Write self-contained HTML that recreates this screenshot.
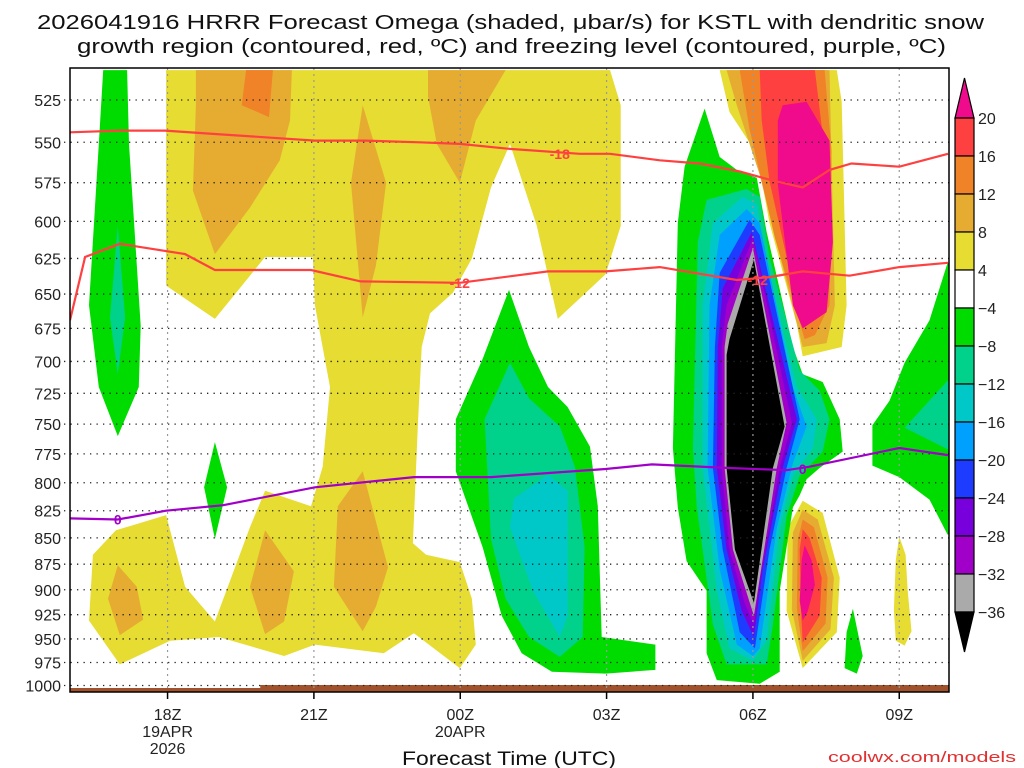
<!DOCTYPE html>
<html><head><meta charset="utf-8">
<style>
html,body{margin:0;padding:0;background:#fff;}
svg{display:block;font-family:"Liberation Sans","DejaVu Sans",sans-serif;}
</style></head>
<body>
<svg id="chart" width="1024" height="768" viewBox="0 0 1024 768" xmlns="http://www.w3.org/2000/svg">
<rect x="0" y="0" width="1024" height="768" fill="#fff"/>
<text x="37" y="29" font-size="20" fill="#111" textLength="947" lengthAdjust="spacingAndGlyphs">2026041916 HRRR Forecast Omega (shaded, μbar/s) for KSTL with dendritic snow</text>
<text x="77" y="53" font-size="20" fill="#111" textLength="869" lengthAdjust="spacingAndGlyphs">growth region (contoured, red, ºC) and freezing level (contoured, purple, ºC)</text>
<defs><clipPath id="plotclip"><rect x="70" y="68" width="879" height="624"/></clipPath></defs>
<g id="shading" clip-path="url(#plotclip)"></g>
<g id="ground"></g>
<g id="grid"></g>
<g id="contours" clip-path="url(#plotclip)"></g>
<rect x="70" y="68" width="879" height="624" fill="none" stroke="#000" stroke-width="1.5"/>
<g id="axes"></g>
<g id="colorbar"></g>
<text x="509" y="765" font-size="19" fill="#111" text-anchor="middle" textLength="214" lengthAdjust="spacingAndGlyphs">Forecast Time (UTC)</text>
<text x="828" y="762" font-size="15" fill="#e03030" textLength="188" lengthAdjust="spacingAndGlyphs">coolwx.com/models</text>
</svg>
<script>
// ---- data ----
const pressureTicks = [525,550,575,600,625,650,675,700,725,750,775,800,825,850,875,900,925,950,975,1000];
const timeTickHours = [2,5,8,11,14,17];
const timeTickLabels = ["18Z","21Z","00Z","03Z","06Z","09Z"];
const timeTickSub1 = ["19APR","","20APR","","",""];
const timeTickSub2 = ["2026","","","","",""];
const cbLabels = ["20","16","12","8","4","-4","-8","-12","-16","-20","-24","-28","-32","-36"];
const cbColors = ["#ff4040","#f08228","#e6ac32","#e6dc32","#ffffff","#00dc00","#00d28c","#00c8c8","#00a0ff","#1e3cff","#7800dc","#a000c8","#aaaaaa"];
const levelColors = {m:"#f00a8c", r:"#ff4040", o:"#f08228", g:"#e6ac32", y:"#e6dc32", gr:"#00dc00", te:"#00d28c", cy:"#00c8c8", lb:"#00a0ff", bl:"#1e3cff", pu:"#7800dc", vi:"#a000c8", ga:"#aaaaaa", bk:"#000000"};
const regionLevels = ["y","g","o","g","g","g","g","g","gr","te","gr","gr","te","cy",
 "y","g","o","r","m","y","g","o","r","m","gr","gr","te","y",
 "gr","te","cy","lb","bl","pu","vi","ga","bk"];
const regionPoints = [
 [[1.97,508],[11.07,508],[11.29,528],[11.29,603],[10.98,636],[10.0,668],[9.57,603],[9.02,551],[8.63,578],[8.24,625],[7.85,649],[7.38,664],[7.21,689],[7.13,752],[7.03,855],[7.30,866],[7.99,873],[8.24,909],[8.32,956],[7.99,981],[7.05,944],[6.43,965],[5.02,956],[4.39,968],[3.05,948],[2.05,952],[1.02,977],[0.39,931],[0.47,866],[0.94,843],[1.97,829],[2.36,897],[2.97,932],[3.69,840],[4.0,807],[4.94,821],[5.18,786],[5.33,720],[5.02,658],[4.98,624],[4.0,624],[2.97,668],[1.97,644]],
 [[2.58,508],[4.55,508],[4.51,537],[4.30,561],[3.69,591],[2.97,622],[2.52,580],[2.58,528]],
 [[3.61,508],[4.16,508],[4.08,535],[3.52,528]],
 [[7.34,508],[8.93,508],[8.32,537],[7.99,575],[7.52,551],[7.34,523]],
 [[6.0,528],[6.48,575],[6.27,630],[6.0,667],[5.76,575]],
 [[6.0,790],[6.52,878],[6.27,917],[6.0,942],[5.41,897],[5.49,821]],
 [[4.0,843],[4.59,882],[4.39,932],[4.0,945],[3.69,897]],
 [[0.98,876],[1.37,897],[1.50,930],[1.02,946],[0.78,909]],
 [[0.68,508],[1.17,508],[1.21,551],[1.45,673],[1.41,720],[0.98,760],[0.59,720],[0.39,658],[0.59,551]],
 [[0.98,603],[1.13,667],[0.98,710],[0.82,667]],
 [[2.97,765],[3.22,804],[2.97,851],[2.75,804]],
 [[9.0,647],[9.41,689],[9.80,720],[10.2,736],[10.66,769],[10.82,821],[10.9,948],[12.0,956],[12.0,983],[10.98,987],[9.88,985],[9.26,965],[8.85,926],[8.46,859],[7.91,790],[7.91,746],[8.46,698]],
 [[9.02,701],[9.41,729],[10.04,752],[10.35,786],[10.55,859],[10.51,948],[10.04,969],[9.41,948],[8.93,909],[8.63,851],[8.50,746]],
 [[9.80,793],[10.2,807],[10.2,926],[10.04,948],[9.49,901],[9.02,840],[9.10,814]],
 [[13.32,508],[15.72,508],[15.82,526],[15.92,658],[15.82,689],[15.02,696],[14.90,672],[14.34,601],[14.08,557],[13.52,532]],
 [[13.46,508],[15.57,508],[15.68,658],[15.51,686],[15.02,689],[14.14,570],[13.67,528]],
 [[13.73,508],[15.47,508],[15.61,555],[15.57,658],[15.27,680],[15.06,683],[14.45,611],[13.93,542]],
 [[14.14,508],[15.27,508],[15.47,555],[15.47,654],[15.12,672],[14.75,633],[14.34,574],[14.18,537]],
 [[14.61,528],[15.10,526],[15.57,549],[15.64,614],[15.51,663],[15.02,675],[14.82,658],[14.51,576],[14.51,537]],
 [[15.02,816],[15.43,827],[15.78,888],[15.72,943],[15.02,981],[14.69,921],[14.71,841]],
 [[15.02,824],[15.33,833],[15.66,888],[15.59,940],[15.02,973],[14.80,920],[14.82,845]],
 [[15.02,833],[15.25,840],[15.53,888],[15.49,934],[15.02,963],[14.90,918],[14.92,852]],
 [[15.02,842],[15.16,850],[15.41,888],[15.37,926],[15.02,954],[14.98,915],[14.96,861]],
 [[15.06,857],[15.20,871],[15.27,895],[15.12,922],[15.02,931],[14.96,911],[15.0,871]],
 [[16.05,919],[16.25,968],[16.13,987],[15.88,981],[15.92,943]],
 [[18.2,628],[17.99,628],[17.62,669],[17.11,701],[16.80,731],[16.45,751],[16.45,785],[17.0,795],[17.62,815],[17.99,847],[18.2,847]],
 [[18.2,715],[17.99,715],[17.11,753],[17.99,771],[18.2,771]],
 [[17.0,849],[17.13,866],[17.17,900],[17.25,942],[17.11,957],[16.93,952],[16.89,920],[16.93,871]],
 [[13.01,530],[13.32,559],[13.67,567],[14.08,572],[14.28,607],[14.82,689],[15.02,710],[15.43,716],[15.78,746],[15.84,773],[15.37,787],[15.10,797],[14.96,811],[14.82,822],[14.55,901],[14.55,985],[14.14,998],[13.26,994],[13.05,965],[13.05,901],[12.64,872],[12.46,822],[12.36,770],[12.46,601],[12.60,565]],
 [[13.05,586],[13.87,579],[14.14,584],[14.34,624],[14.96,707],[15.37,723],[15.57,746],[15.43,773],[14.96,794],[14.69,830],[14.41,935],[14.28,977],[13.46,977],[13.18,935],[12.85,822],[12.77,770],[12.87,614]],
 [[13.18,601],[13.79,584],[14.08,589],[14.28,628],[14.90,720],[15.31,746],[15.23,770],[14.82,794],[14.55,841],[14.28,952],[14.0,973],[13.52,960],[13.26,901],[12.97,787],[12.97,658]],
 [[13.32,609],[13.87,592],[14.14,601],[14.82,720],[15.10,752],[14.82,783],[14.49,841],[14.14,960],[14.0,968],[13.67,956],[13.32,880],[13.07,787],[13.11,658]],
 [[13.32,635],[13.93,599],[14.14,609],[14.96,746],[14.69,787],[14.34,861],[14.04,960],[13.73,943],[13.38,861],[13.18,787],[13.22,689]],
 [[13.38,646],[13.98,607],[14.90,746],[14.61,787],[14.20,880],[14.02,948],[13.77,921],[13.46,861],[13.26,787],[13.28,689]],
 [[13.46,658],[14.0,611],[14.80,749],[14.55,787],[14.14,892],[14.02,935],[13.83,913],[13.52,861],[13.36,787],[13.36,689]],
 [[13.48,672],[14.0,618],[14.69,749],[14.49,787],[14.02,926],[13.59,861],[13.42,787],[13.42,689]],
 [[13.52,683],[14.02,626],[14.65,752],[14.41,787],[14.02,913],[13.63,861],[13.46,787],[13.46,695]]
];
const line18Hours = [0,1.02,1.95,2.97,4.0,5.02,6.05,7.17,7.99,9.02,10.45,11.07,12.09,12.91,13.73,14.45,15.02,15.57,16.02,17.0,18.0];
const line18P = [544,543,543,545,547,549,549,550,551,554,557,557,561,563,568,574,578,567,563,565,557];
const line12Hours = [0,0.31,1.02,2.36,2.97,4.94,5.96,7.99,9.80,10.98,12.09,13.67,14.34,15.02,15.98,17.0,18.0];
const line12P = [669,624,615,622,633,633,641,642,634,634,631,640,638,634,637,631,628];
const line0Hours = [0,0.98,1.97,3.14,5.02,7.05,8.63,10.98,11.93,13.46,14.69,15.16,17.0,18.0];
const line0P = [832,833,825,820,804,795,795,788,784,787,789,786,770,776];
const contourLabels = [["-18",10.04,557,"#ff4040"],["-12",7.99,642,"#ff4040"],["-12",14.1,640,"#ff4040"],["0",0.98,833,"#a000c8"],["0",15.02,788,"#a000c8"]];

// ---- axes ----
const X0 = 70, HOUR = 48.78;
function xs(t){ return X0 + t*HOUR; }
function ys(p){ return 100 + 908.7*Math.log(p/525); }
const SVGNS = "http://www.w3.org/2000/svg";
function mk(tag, attrs, parent){
  const e = document.createElementNS(SVGNS, tag);
  for (const k in attrs) e.setAttribute(k, attrs[k]);
  parent.appendChild(e);
  return e;
}

const shadingG = document.getElementById('shading');
regionPoints.forEach((pts, i) => {
  const d = pts.map(q => xs(q[0]).toFixed(1)+','+ys(q[1]).toFixed(1)).join(' ');
  const poly = mk('polygon', {points:d, fill:levelColors[regionLevels[i]]}, shadingG);
  
  
});

const groundG = document.getElementById('ground');
const g1 = mk('rect', {x:70, y:688, width:879, height:4, fill:'#a0522d'}, groundG);


const g2 = mk('rect', {x:xs(3.9), y:685, width:949-xs(3.9), height:7, fill:'#a0522d'}, groundG);



const gridG = document.getElementById('grid');
pressureTicks.forEach(p => {
  const l = mk('line', {x1:64, x2:949, y1:ys(p), y2:ys(p), stroke:'#222', 'stroke-width':1.3, 'stroke-dasharray':'1.3 5.2'}, gridG);
  
  
});
timeTickHours.forEach(h => {
  const l = mk('line', {x1:xs(h), x2:xs(h), y1:68, y2:692, stroke:'#999', 'stroke-width':1.2, 'stroke-dasharray':'2 4'}, gridG);
  
  
});

const contoursG = document.getElementById('contours');
function drawLine(hours, ps, color, name){
  const d = hours.map((h,i) => (i?'L':'M') + xs(h).toFixed(1) + ',' + ys(ps[i]).toFixed(1)).join(' ');
  const path = mk('path', {d:d, fill:'none', stroke:color, 'stroke-width':2.2}, contoursG);
  
  
}
drawLine(line18Hours, line18P, '#ff4040', 'contour-minus-18');
drawLine(line12Hours, line12P, '#ff4040', 'contour-minus-12');
drawLine(line0Hours, line0P, '#a000c8', 'freezing-level-0');
contourLabels.forEach(c => {
  const t = mk('text', {x:xs(c[1]), y:ys(c[2])+5, 'font-size':14, 'font-weight':'bold', fill:c[3], 'text-anchor':'middle'}, contoursG);
  t.textContent = c[0];
  
  
});

const axesG = document.getElementById('axes');
pressureTicks.forEach(p => {
  const t = mk('text', {x:61, y:ys(p)+6, 'font-size':16, fill:'#222', 'text-anchor':'end'}, axesG);
  t.textContent = String(p);
  
  
});
timeTickHours.forEach((h,i) => {
  const tk = mk('line', {x1:xs(h), x2:xs(h), y1:692, y2:699, stroke:'#000', 'stroke-width':1.5}, axesG);
  
  
  const t = mk('text', {x:xs(h), y:720, 'font-size':16, fill:'#222', 'text-anchor':'middle'}, axesG);
  t.textContent = timeTickLabels[i];
  
  
  if (timeTickSub1[i]) {
    const s = mk('text', {x:xs(h), y:737, 'font-size':16, fill:'#222', 'text-anchor':'middle'}, axesG);
    s.textContent = timeTickSub1[i];
    
    
  }
  if (timeTickSub2[i]) {
    const s = mk('text', {x:xs(h), y:754, 'font-size':16, fill:'#222', 'text-anchor':'middle'}, axesG);
    s.textContent = timeTickSub2[i];
    
    
  }
});

const cbG = document.getElementById('colorbar');
const CBX = 955, CBW = 19, CBT = 118, CBH = 38;
const cbTopArrow = mk('polygon', {points:`${CBX},${CBT} ${CBX+CBW},${CBT} ${CBX+CBW/2},${CBT-40}`, fill:'#f00a8c', stroke:'#000', 'stroke-width':1.2}, cbG);


cbColors.forEach((c,i) => {
  const r = mk('rect', {x:CBX, y:CBT+i*CBH, width:CBW, height:CBH, fill:c, stroke:'#000', 'stroke-width':1.2}, cbG);
  
  
});
const cbBot = CBT + cbColors.length*CBH;
const cbBotArrow = mk('polygon', {points:`${CBX},${cbBot} ${CBX+CBW},${cbBot} ${CBX+CBW/2},${cbBot+40}`, fill:'#000', stroke:'#000', 'stroke-width':1.2}, cbG);


cbLabels.forEach((l,i) => {
  const t = mk('text', {x:978, y:CBT+i*CBH+6, 'font-size':16, fill:'#222'}, cbG);
  t.textContent = l.replace('-', '\u2212');
  
  
});
</script>
</body></html>
